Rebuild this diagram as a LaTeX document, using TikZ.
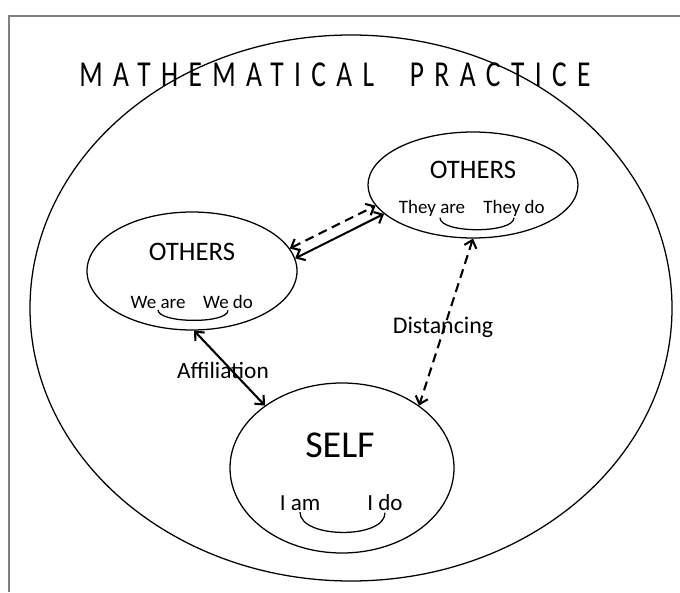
\documentclass[tikz,border=0pt]{standalone}
\usepackage{fontspec}
\setmainfont{Carlito}
\newfontfamily\titlefont[LetterSpace=38]{Carlito}
\usetikzlibrary{shapes.geometric,arrows.meta}

\begin{document}
\begin{tikzpicture}[scale=1,
  bubble/.style={draw,ellipse,line width=0.9pt,inner sep=0pt},
  link/.style={{Straight Barb[length=5pt,width=9pt]}-{Straight Barb[length=5pt,width=9pt]},line width=1.5pt},
  dashlink/.style={link,dash pattern=on 6.5pt off 4pt},
  word/.style={inner sep=1pt}]
\useasboundingbox (0,0) rectangle (17,14.8);
\draw[gray,line width=1.4pt] (17,14.4) -- (0.225,14.4) -- (0.225,0);
\node[bubble,minimum width=16.05cm,minimum height=13.65cm] (practice) at (8.775,7.1) {};
\node[anchor=west,inner sep=0] (title) at (1.975,12.925)
  {\scalebox{0.75}[1]{\titlefont\fontsize{26}{30}\selectfont MATHEMATICAL\hspace{1.3em}PRACTICE}};
\node[bubble,minimum width=5.25cm,minimum height=2.65cm] (theirs) at (11.825,10.175) {};
\node[bubble,minimum width=5.25cm,minimum height=2.95cm] (ours) at (4.8,8.025) {};
\node[bubble,minimum width=5.6cm,minimum height=4.25cm] (self) at (8.55,3.1) {};
\node[font=\fontsize{19}{23}\selectfont] (theirhead) at (11.825,10.55) {OTHERS};
\node[word,font=\fontsize{13.5}{16}\selectfont] (theyare) at (10.8,9.6) {They are};
\node[word,font=\fontsize{13.5}{16}\selectfont] (theydo) at (12.85,9.6) {They do};
\node[font=\fontsize{19}{23}\selectfont] (ourhead) at (4.8,8.5) {OTHERS};
\node[word,font=\fontsize{13.5}{16}\selectfont] (weare) at (3.95,7.25) {We are};
\node[word,font=\fontsize{13.5}{16}\selectfont] (wedo) at (5.7,7.25) {We do};
\node[font=\fontsize{27}{32}\selectfont] (selfhead) at (8.5,3.675) {SELF};
\node[word,font=\fontsize{16.4}{20}\selectfont] (iam) at (7.5,2.225) {I am};
\node[word,font=\fontsize{16.4}{20}\selectfont] (ido) at (9.625,2.225) {I do};
% the smiles under each pair
\draw[line width=0.9pt] ([xshift=0.2cm]theyare.south) to[out=-90,in=-90,looseness=0.55] (theydo.south);
\draw[line width=0.9pt] (weare.south) to[out=-90,in=-90,looseness=0.5] (wedo.south);
\draw[line width=0.9pt] (iam.south) to[out=-90,in=-90,looseness=0.8] (ido.south);
\draw[dashlink] (ours.13) -- (theirs.192);
\draw[link] (ours.7) -- (theirs.198);
\draw[link] (ours.272) -- (self.141);
\draw[dashlink] (theirs.270) -- (self.39);
\node[font=\fontsize{16.6}{20}\selectfont] (affil) at (5.575,5.55) {Affiliation};
\node[font=\fontsize{17}{20}\selectfont] (distance) at (11.075,6.625) {Distancing};
\end{tikzpicture}
\end{document}
